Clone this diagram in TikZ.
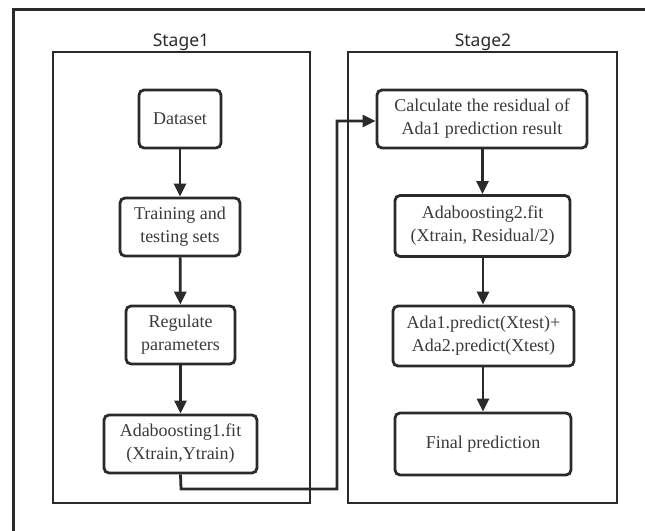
\documentclass[tikz,border=0pt]{standalone}
\usepackage{fontspec}
\setmainfont{Liberation Serif}
\newfontfamily\stagefont{Noto Sans}
\usetikzlibrary{arrows.meta}
\definecolor{ink}{HTML}{2A2A2A}
\definecolor{txt}{HTML}{3A3A3A}
\begin{document}
\begin{tikzpicture}[x=1pt,y=-1pt,
  box/.style={draw=ink,line width=2.8pt,rounded corners=5pt,align=center,
    text=txt,font=\fontsize{18}{23}\selectfont,inner sep=0pt},
  frame/.style={draw=ink,line width=2.8pt},
  stagelbl/.style={text=ink,font=\stagefont\fontsize{17.5}{21}\selectfont,inner sep=0pt},
  arr/.style={draw=ink,line width=2.8pt,-{Triangle[length=13pt,width=12pt]}}]
\useasboundingbox (0,0) rectangle (645,530);
% outer frame (top and left edges visible)
\draw[frame,line width=3pt] (13,531) -- (13,9) -- (646,9);
% stage frames
\draw[frame] (53,52) rectangle (310,503);
\draw[frame] (348,52) rectangle (617,503);
\node[stagelbl] (s1) at (181,42) {Stage1};
\node[stagelbl] (s2) at (483,42) {Stage2};
% stage 1 nodes
\node[box,minimum width=82pt,minimum height=58pt] (ds) at (180,119) {Dataset};
\node[box,minimum width=120pt,minimum height=58pt] (tr) at (180,227) {Training and\\testing sets};
\node[box,minimum width=109pt,minimum height=58pt] (rp) at (180.5,335) {Regulate\\parameters};
\node[box,minimum width=153pt,minimum height=58pt] (a1) at (180.5,444) {Adaboosting1.fit\\(Xtrain,Ytrain)};
% stage 2 nodes
\node[box,minimum width=210pt,minimum height=58pt] (cr) at (482,119) {Calculate the residual of\\Ada1 prediction result};
\node[box,minimum width=175pt,minimum height=61pt] (a2) at (482.5,226) {Adaboosting2.fit\\(Xtrain, Residual/2)};
\node[box,minimum width=181pt,minimum height=60pt] (ap) at (483.5,336) {Ada1.predict(Xtest)+\\Ada2.predict(Xtest)};
\node[box,minimum width=176pt,minimum height=62pt] (fp) at (483,444) {Final prediction};
% arrows
\draw[arr] (ds) -- (tr);
\draw[arr] (tr) -- (rp);
\draw[arr] (rp) -- (a1);
\draw[arr] (a1.south) -- (181,489) -- (337,489) -- (337,121) -- (cr.west |- 0,121);
\draw[arr] (cr.south -| 482.5,0) -- (a2.north -| 482.5,0);
\draw[arr] (a2.south -| 483,0) -- (ap.north -| 483,0);
\draw[arr] (ap.south -| 483,0) -- (fp.north -| 483,0);
\end{tikzpicture}
\end{document}
